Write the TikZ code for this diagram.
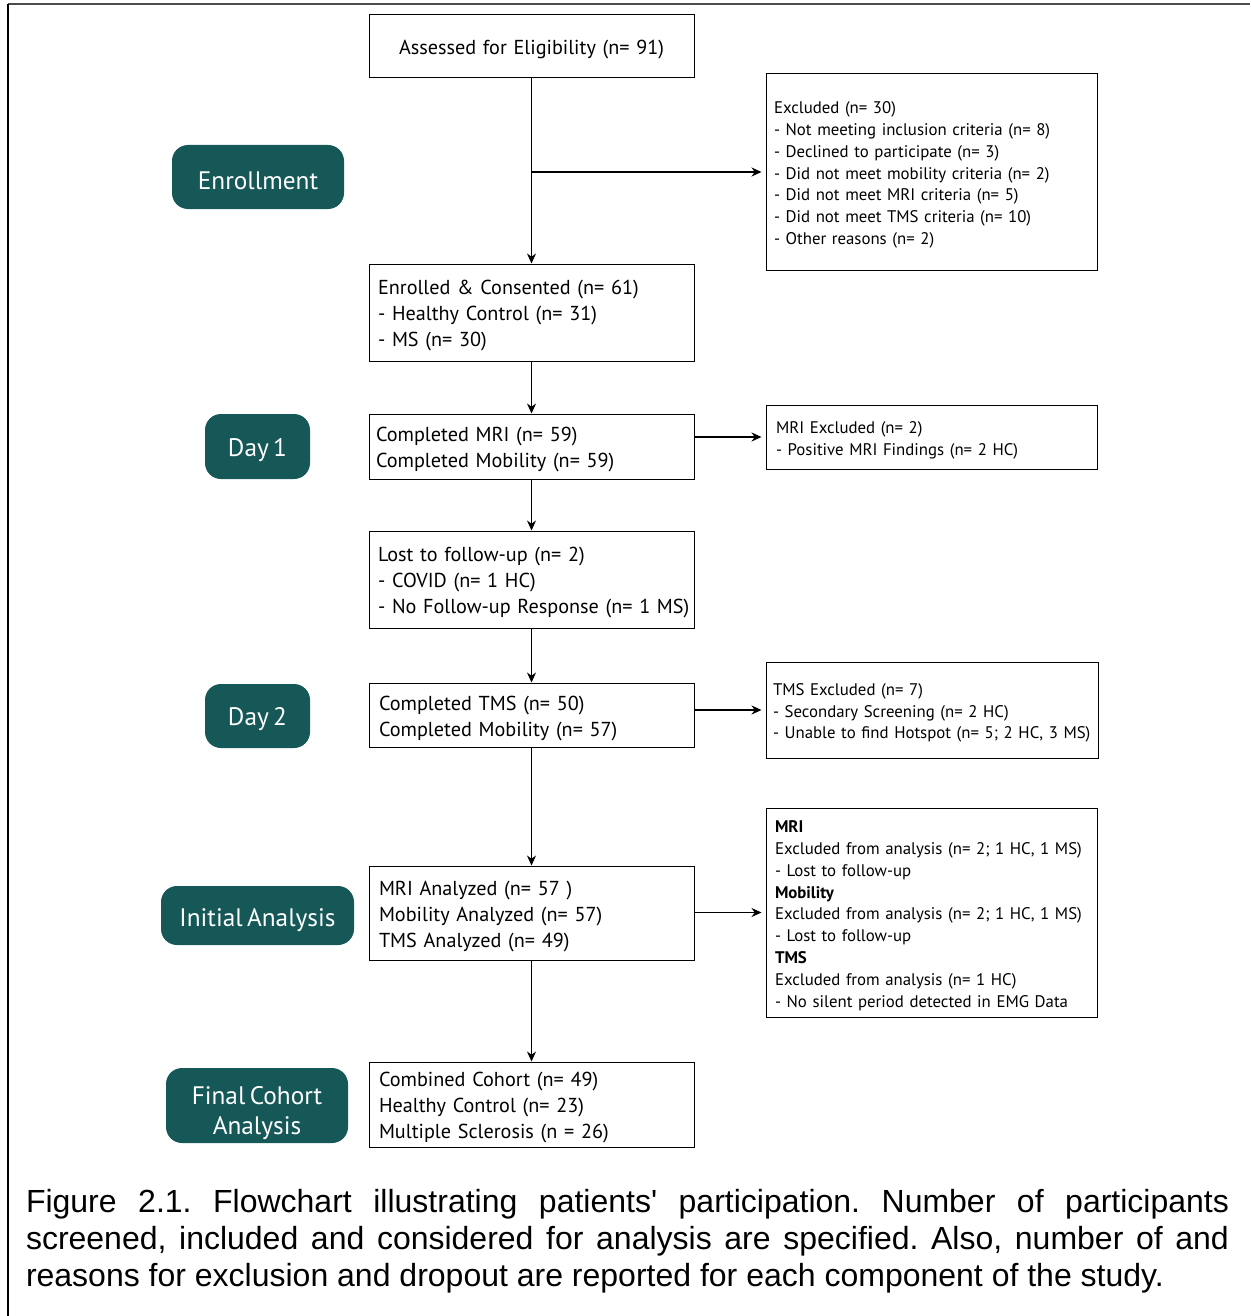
\documentclass[tikz,border=0pt]{standalone}
\usepackage{fontspec}
\setmainfont{PT Sans}[WordSpace=0.65]
\newfontfamily\capfont{Liberation Sans}
\usetikzlibrary{arrows.meta}
\definecolor{stagefill}{RGB}{22,88,88}
\frenchspacing
\begin{document}
\begin{tikzpicture}[x=1pt,y=-1pt,
    mainbox/.style={draw, line width=1pt, text width=307pt, inner xsep=9pt, inner ysep=0pt, align=left, execute at begin node={\rule{0pt}{21pt}}, font=\fontsize{20.2}{26}\selectfont},
    sidebox/.style={draw, line width=1pt, text width=315pt, inner xsep=8pt, inner ysep=0pt, align=left, execute at begin node={\rule{0pt}{18pt}}, font=\fontsize{16.8}{21.8}\selectfont},
    stage/.style={fill=stagefill, rounded corners=16pt, text=white, align=center, inner sep=0pt, execute at begin node={\rule{0pt}{25pt}}, font=\fontsize{25.3}{30}\selectfont},
    flow/.style={-{Stealth[length=10pt,width=9pt]}, line width=1.2pt}]
    \useasboundingbox (0,0) rectangle (1250,1316);
    \draw[line width=2pt, black!70] (1250,4) -- (8,4);
    \draw[line width=1.5pt] (8,4) -- (8,1316);

    % stages on the left
    \node[stage, minimum width=172pt, minimum height=64pt] (enrollment) at (258,177) {Enrollment};
    \node[stage, minimum width=105pt, minimum height=65pt] (day1) at (257.5,446.5) {Day 1};
    \node[stage, minimum width=105pt, minimum height=64pt] (day2) at (257.5,716) {Day 2};
    \node[stage, minimum width=193pt, minimum height=59pt, execute at begin node={\rule{0pt}{28pt}}] (initial) at (257.5,915.5) {Initial Analysis};
    \node[stage, minimum width=182pt, minimum height=75pt] (finalcohort) at (257,1105.5) {\raisebox{0pt}[34pt]{Final Cohort}\\Analysis};

    % main column
    \node[mainbox, align=center, minimum height=63pt] (elig) at (531.5,46.5) {Assessed for Eligibility (n= 91)};
    \node[mainbox, minimum height=97pt] (enrol) at (531.5,312.5) {Enrolled \& Consented (n= 61)\\- Healthy Control (n= 31)\\- MS (n= 30)};
    \node[mainbox, inner xsep=7pt, text width=311pt, minimum height=65pt] (day1box) at (531.5,446.5) {Completed MRI (n= 59)\\Completed Mobility (n= 59)};
    \node[mainbox, minimum height=97pt] (lost) at (531.5,579.5) {Lost to follow-up (n= 2)\\- COVID (n= 1 HC)\\\mbox{- No Follow-up Response (n= 1 MS)}};
    \node[mainbox, inner xsep=10pt, text width=305pt, minimum height=64pt] (day2box) at (531.5,715) {Completed TMS (n= 50)\\Completed Mobility (n= 57)};
    \node[mainbox, inner xsep=10pt, text width=305pt, minimum height=94pt] (analysed) at (531.5,913) {MRI Analyzed (n= 57 )\\Mobility Analyzed (n= 57)\\TMS Analyzed (n= 49)};
    \node[mainbox, inner xsep=10pt, text width=305pt, minimum height=85pt] (final) at (531.5,1104.5) {Combined Cohort (n= 49)\\Healthy Control (n= 23)\\Multiple Sclerosis (n = 26)};

    % exclusions on the right
    \node[sidebox, minimum height=196pt] (excl) at (931.5,172) {Excluded (n= 30)\\- Not meeting inclusion criteria (n= 8)\\- Declined to participate (n= 3)\\- Did not meet mobility criteria (n= 2)\\- Did not meet MRI criteria (n= 5)\\- Did not meet TMS criteria (n= 10)\\- Other reasons (n= 2)};
    \node[sidebox, inner xsep=10pt, text width=311pt, minimum height=64pt] (mriex) at (931.5,437) {MRI Excluded (n= 2)\\- Positive MRI Findings (n= 2 HC)};
    \node[sidebox, inner xsep=7pt, text width=318pt, minimum height=96pt] (tmsex) at (932,710) {TMS Excluded (n= 7)\\- Secondary Screening (n= 2 HC)\\\mbox{- Unable to find Hotspot (n= 5; 2 HC, 3 MS)}};
    \node[sidebox, inner xsep=9pt, text width=313pt, minimum height=209pt] (anex) at (931.5,912.5) {\textbf{MRI}\\\mbox{Excluded from analysis (n= 2; 1 HC, 1 MS)}\\- Lost to follow-up\\\textbf{Mobility}\\\mbox{Excluded from analysis (n= 2; 1 HC, 1 MS)}\\- Lost to follow-up\\\textbf{TMS}\\Excluded from analysis (n= 1 HC)\\- No silent period detected in EMG Data};

    \coordinate (split) at (elig.south |- excl.west);
    \draw[flow] (elig) -- (enrol);
    \draw[flow, shorten >=4pt] (split) -- (excl.west);
    \draw[flow] (enrol) -- (day1box);
    \draw[flow, shorten >=4pt] (day1box.east |- mriex.west) -- (mriex.west);
    \draw[flow] (day1box) -- (lost);
    \draw[flow] (lost) -- (day2box);
    \draw[flow, shorten >=4pt] (day2box.east |- tmsex.west) -- (tmsex.west);
    \draw[flow] (day2box) -- (analysed);
    \draw[flow, shorten >=4pt] (analysed.east |- anex.west) -- (anex.west);
    \draw[flow] (analysed) -- (final);

    \node[text width=1203pt, align=justify, inner sep=0pt, font=\capfont\fontsize{32}{37}\selectfont] (caption) at (627.5,1241)
        {Figure 2.1. Flowchart illustrating patients' participation. Number of participants\linebreak screened, included and considered for analysis are specified. Also, number of and\linebreak reasons for exclusion and dropout are reported for each component of the study.};
\end{tikzpicture}
\end{document}
